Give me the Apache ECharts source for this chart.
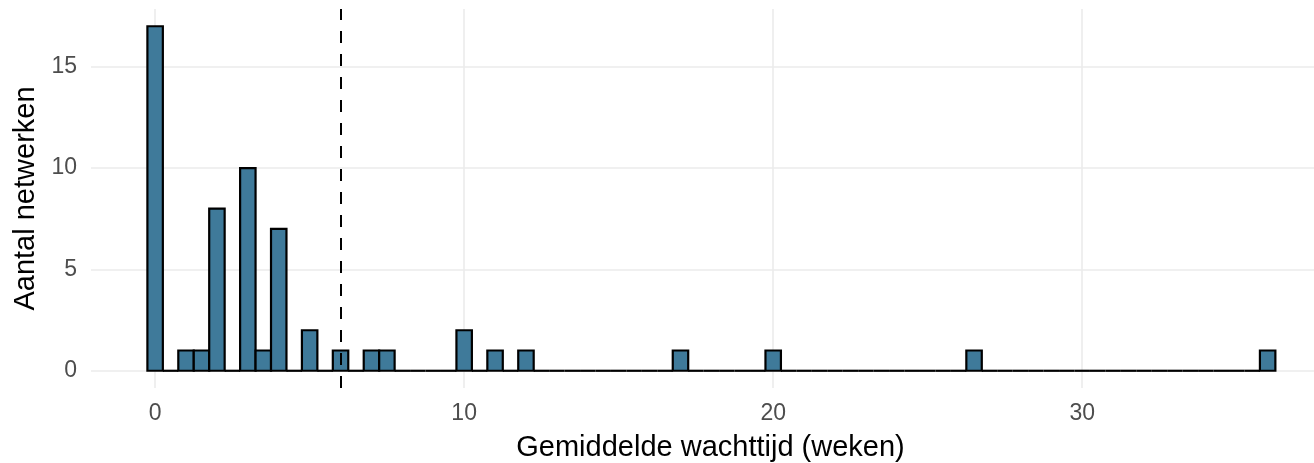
<!DOCTYPE html>
<html>
<head>
<meta charset="utf-8">
<script src="https://cdn.jsdelivr.net/npm/echarts@6/dist/echarts.min.js"></script>
<style>
html,body{margin:0;padding:0;background:#fff;}
#chart{width:1314px;height:463px;}
</style>
</head>
<body>
<div id="chart"></div>
<script>
// Histogram bins: first bin centred at 0, width 0.5 weeks
const binFirstCenter = 0;
const binWidth = 0.5;
const counts = [
  17, 0, 1, 1, 8, 0, 10, 1, 7, 0,
  2, 0, 1, 0, 1, 1, 0, 0, 0, 0,
  2, 0, 1, 0, 1, 0, 0, 0, 0, 0,
  0, 0, 0, 0, 1, 0, 0, 0, 0, 0,
  1, 0, 0, 0, 0, 0, 0, 0, 0, 0,
  0, 0, 0, 1, 0, 0, 0, 0, 0, 0,
  0, 0, 0, 0, 0, 0, 0, 0, 0, 0,
  0, 0, 1
];
const referenceLine = 6;
const xTitle = 'Gemiddelde wachttijd (weken)';
const yTitle = 'Aantal netwerken';

const histData = counts.map((n, i) => [binFirstCenter + i * binWidth, n]);

const FONT = '"Liberation Sans", Arial, sans-serif';
const chart = echarts.init(document.getElementById('chart'), null, {renderer: 'canvas'});

chart.setOption({
  animation: false,
  backgroundColor: '#ffffff',
  grid: {left: 91, right: 0, top: 9, bottom: 75, containLabel: false, outerBoundsMode: 'none'},
  xAxis: {
    type: 'value',
    min: -2.075, max: 37.5,
    splitNumber: 4,
    name: xTitle,
    nameLocation: 'middle',
    nameGap: 45,
    nameTextStyle: {fontFamily: FONT, fontSize: 29, color: '#000', padding: [0, 0, 0, 16]},
    axisLine: {show: false},
    axisTick: {show: false},
    axisLabel: {
      fontFamily: FONT, fontSize: 23, color: '#4D4D4D', margin: 14,
      showMinLabel: false, showMaxLabel: false,
      formatter: v => (Math.abs(v % 10) < 1e-9 ? String(v) : '')
    },
    splitLine: {show: true, showMinLine: false, showMaxLine: false, lineStyle: {color: '#EBEBEB', width: 1.6}}
  },
  yAxis: {
    type: 'value',
    min: -0.85, max: 17.85,
    splitNumber: 4,
    name: yTitle,
    nameLocation: 'middle',
    nameGap: 45,
    nameRotate: 90,
    nameTextStyle: {fontFamily: FONT, fontSize: 29, color: '#000'},
    axisLine: {show: false},
    axisTick: {show: false},
    axisLabel: {
      fontFamily: FONT, fontSize: 23, color: '#4D4D4D', margin: 14,
      showMinLabel: false, showMaxLabel: false,
      formatter: v => (Math.abs(v % 5) < 1e-9 ? String(v) : '')
    },
    splitLine: {show: true, showMinLine: false, showMaxLine: false, lineStyle: {color: '#EBEBEB', width: 1.6}}
  },
  series: [{
    type: 'custom',
    data: histData,
    encode: {x: 0, y: 1},
    clip: false,
    renderItem: function (params, api) {
      const c = api.value(0), n = api.value(1);
      const p0 = api.coord([c - binWidth / 2, 0]);
      const p1 = api.coord([c + binWidth / 2, n]);
      if (n === 0) {
        return {
          type: 'line',
          shape: {x1: p0[0], y1: p0[1], x2: p1[0], y2: p0[1]},
          style: {stroke: '#000', lineWidth: 2.2}
        };
      }
      return {
        type: 'rect',
        shape: {x: p0[0], y: p1[1], width: p1[0] - p0[0], height: p0[1] - p1[1]},
        style: {fill: '#3F7A9A', stroke: '#000', lineWidth: 2.2}
      };
    },
    markLine: {
      silent: true,
      symbol: ['none', 'none'],
      label: {show: false},
      lineStyle: {color: '#000', width: 2, type: [12, 11]},
      data: [{xAxis: referenceLine}]
    }
  }]
});
</script>
</body>
</html>
